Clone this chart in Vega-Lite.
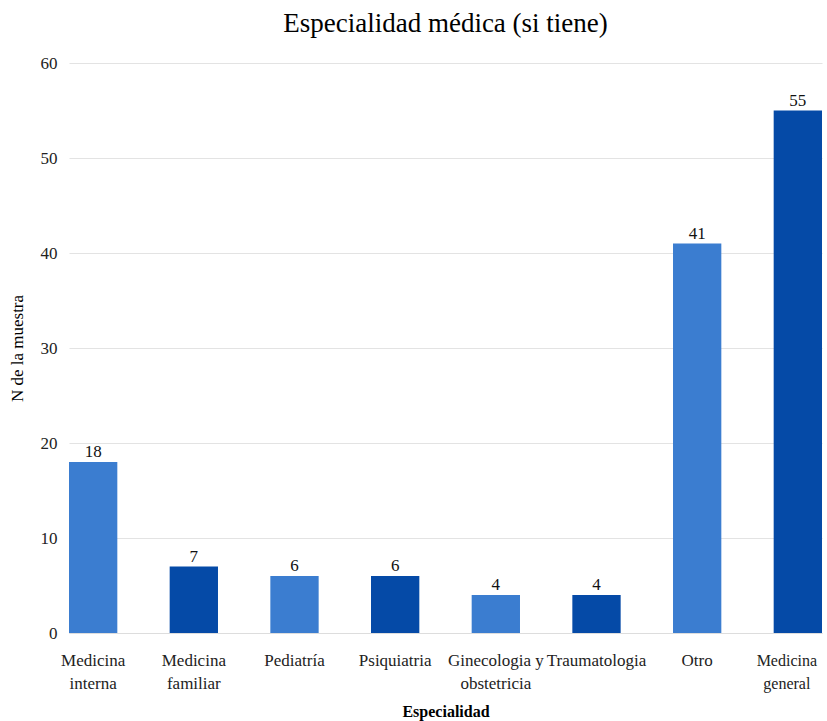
{
  "$schema": "https://vega.github.io/schema/vega-lite/v6.json",
  "width": 753,
  "height": 570,
  "autosize": {"type": "none"},
  "padding": {"left": 69, "top": 63, "right": 5, "bottom": 88},
  "background": "white",
  "title": {
    "text": "Especialidad médica (si tiene)",
    "font": "Liberation Serif",
    "fontSize": 27,
    "fontWeight": "normal",
    "color": "#000000",
    "anchor": "middle",
    "offset": 16
  },
  "config": {
    "view": {"stroke": null},
    "font": "Liberation Serif"
  },
  "data": {
    "values": [
      {"especialidad": "Medicina interna", "n": 18},
      {"especialidad": "Medicina familiar", "n": 7},
      {"especialidad": "Pediatría", "n": 6},
      {"especialidad": "Psiquiatria", "n": 6},
      {"especialidad": "Ginecologia y obstetricia", "n": 4},
      {"especialidad": "Traumatologia", "n": 4},
      {"especialidad": "Otro", "n": 41},
      {"especialidad": "Medicina general", "n": 55}
    ]
  },
  "encoding": {
    "x": {
      "field": "especialidad",
      "type": "nominal",
      "sort": null,
      "scale": {"paddingInner": 0.52, "paddingOuter": 0.0},
      "axis": {
        "title": "Especialidad",
        "titleFont": "Liberation Serif",
        "titleFontSize": 16,
        "titleFontWeight": "bold",
        "titleColor": "#000000",
        "titlePadding": 12,
        "labelAngle": 0,
        "labelFont": "Liberation Serif",
        "labelFontSize": {"condition": {"test": "datum.value == 'Medicina general'", "value": 16}, "value": 17},
        "labelOffset": {"condition": {"test": "datum.value == 'Medicina general'", "value": -11}, "value": 0},
        "labelColor": "#222222",
        "labelPadding": 19,
        "labelLineHeight": 23,
        "labelBound": false,
        "labelExpr": "datum.value == 'Ginecologia y obstetricia' ? ['Ginecologia y', 'obstetricia'] : split(datum.value, ' ')",
        "ticks": false,
        "domain": true,
        "domainColor": "#dddddd",
        "grid": false
      }
    },
    "y": {
      "field": "n",
      "type": "quantitative",
      "scale": {"domain": [0, 60]},
      "axis": {
        "title": "N de la muestra",
        "titleFont": "Liberation Serif",
        "titleFontSize": 17,
        "titleFontWeight": "normal",
        "titleColor": "#000000",
        "titlePadding": 14,
        "values": [0, 10, 20, 30, 40, 50, 60],
        "labelFont": "Liberation Serif",
        "labelFontSize": 17,
        "labelColor": "#222222",
        "labelPadding": 12,
        "ticks": false,
        "domain": false,
        "grid": true,
        "gridColor": "#e3e3e3"
      }
    }
  },
  "layer": [
    {
      "mark": {"type": "bar"},
      "encoding": {
        "color": {
          "field": "especialidad",
          "type": "nominal",
          "legend": null,
          "scale": {
            "domain": ["Medicina interna", "Medicina familiar", "Pediatría", "Psiquiatria", "Ginecologia y obstetricia", "Traumatologia", "Otro", "Medicina general"],
            "range": ["#3b7dd0", "#054aa7", "#3b7dd0", "#054aa7", "#3b7dd0", "#054aa7", "#3b7dd0", "#054aa7"]
          }
        }
      }
    },
    {
      "mark": {"type": "text", "baseline": "bottom", "dy": -1, "font": "Liberation Serif", "fontSize": 17, "color": "#111111"},
      "encoding": {"text": {"field": "n", "type": "quantitative"}}
    }
  ]
}
